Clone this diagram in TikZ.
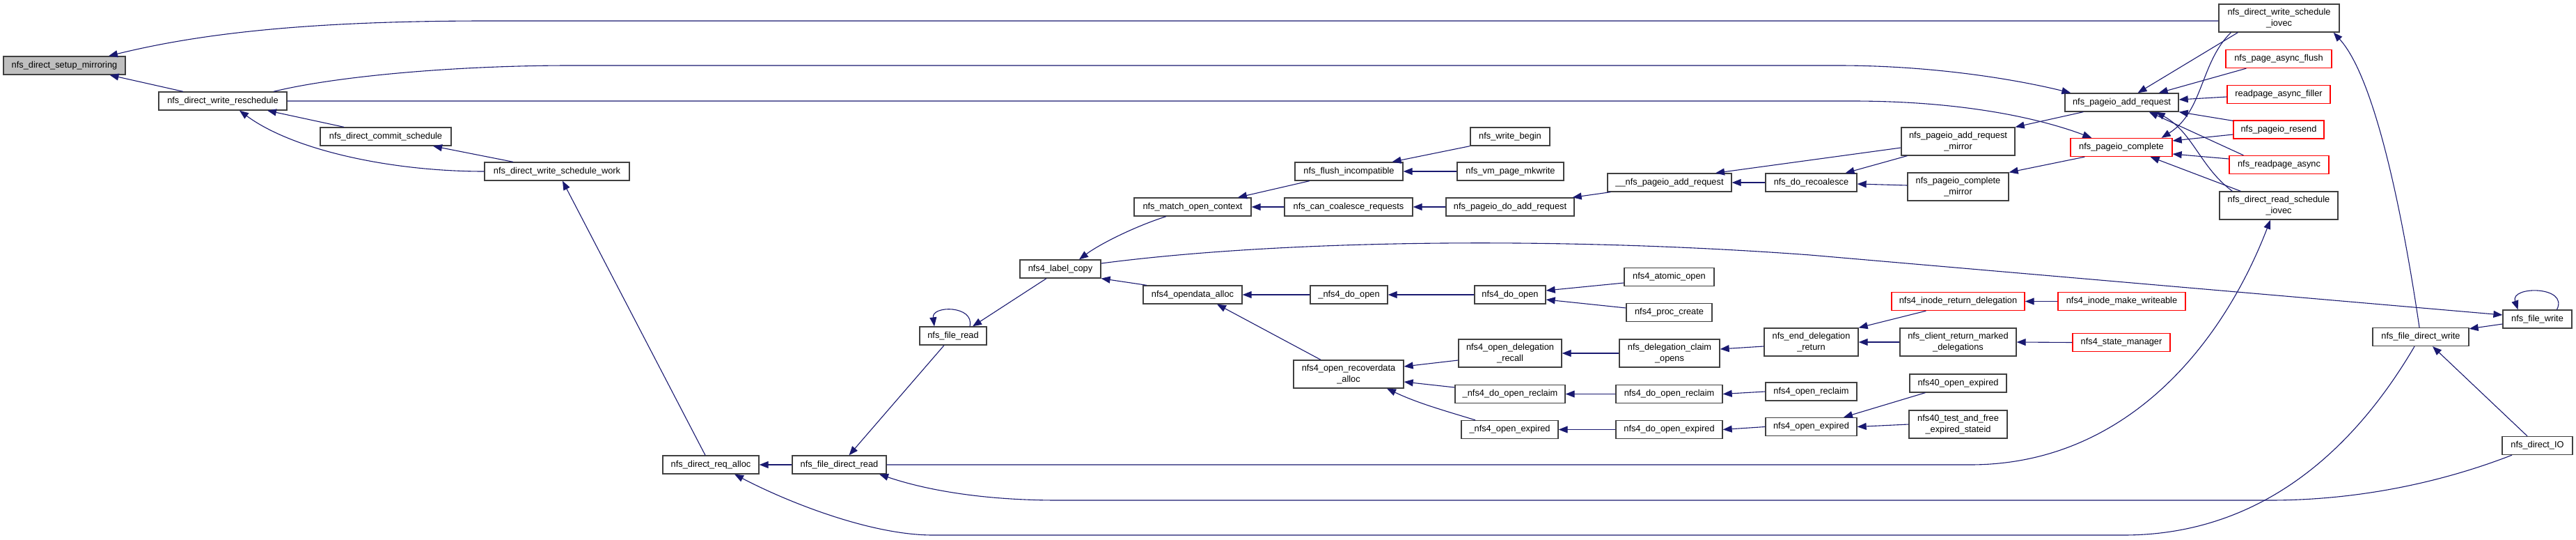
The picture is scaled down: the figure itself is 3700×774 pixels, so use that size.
\documentclass[tikz,border=0pt]{standalone}
\usepackage{fontspec}
\setmainfont{Liberation Sans}
\usetikzlibrary{arrows.meta}
\definecolor{mblue}{RGB}{25,25,112}
\definecolor{ngray}{RGB}{191,191,191}
\definecolor{nborder}{RGB}{64,64,64}
\begin{document}
\begin{tikzpicture}[x=1pt,y=-1pt,
  nd/.style={draw=nborder, fill=white, line width=1.3pt, inner sep=0pt, minimum height=26, align=center, font=\fontsize{12.8}{15.5}\selectfont},
  nd2/.style={nd, minimum height=40},
  ndr/.style={nd, draw=red},
  e/.style={draw=mblue, line width=1.1pt, -{Triangle[length=13pt,width=10pt]}}]
\useasboundingbox (0,0) rectangle (3700,774);
% nodes
\node[nd, minimum width=175, fill=ngray] (mir) at (92.5,94) {nfs\_direct\_setup\_mirroring};
\node[nd, minimum width=184] (resch) at (320,145) {nfs\_direct\_write\_reschedule};
\node[nd, minimum width=188] (commit) at (554,196) {nfs\_direct\_commit\_schedule};
\node[nd, minimum width=208] (work) at (800,246) {nfs\_direct\_write\_schedule\_work};
\node[nd, minimum width=138] (reqalloc) at (1021,667) {nfs\_direct\_req\_alloc};
\node[nd, minimum width=135] (fdread) at (1205.5,667) {nfs\_file\_direct\_read};
\node[nd, minimum width=96] (fread) at (1369,482) {nfs\_file\_read};
\node[nd, minimum width=116] (label) at (1523,386) {nfs4\_label\_copy};
\node[nd, minimum width=142] (odalloc) at (1713,423) {nfs4\_opendata\_alloc};
\node[nd, minimum width=168] (match) at (1713,297) {nfs\_match\_open\_context};
\node[nd, minimum width=155] (flush) at (1937.5,246) {nfs\_flush\_incompatible};
\node[nd, minimum width=184] (cancoal) at (1937,297) {nfs\_can\_coalesce\_requests};
\node[nd, minimum width=114] (wbegin) at (2169,196) {nfs\_write\_begin};
\node[nd, minimum width=153] (mkwrite) at (2169.5,246) {nfs\_vm\_page\_mkwrite};
\node[nd, minimum width=184] (doadd) at (2169,297) {nfs\_pageio\_do\_add\_request};
\node[nd, minimum width=178] (uadd) at (2398,262) {\_\_nfs\_pageio\_add\_request};
\node[nd, minimum width=131] (recoal) at (2601.5,262) {nfs\_do\_recoalesce};
\node[nd2, minimum width=163] (addmir) at (2812.5,203) {nfs\_pageio\_add\_request\\\_mirror};
\node[nd2, minimum width=145] (compmir) at (2812.5,268) {nfs\_pageio\_complete\\\_mirror};
\node[nd, minimum width=163] (padd) at (3047.5,147) {nfs\_pageio\_add\_request};
\node[ndr, minimum width=146] (pcomp) at (3047,211.5) {nfs\_pageio\_complete};
\node[nd2, minimum width=173] (wsiov) at (3273.5,26) {nfs\_direct\_write\_schedule\\\_iovec};
\node[ndr, minimum width=152] (aflush) at (3273,84.5) {nfs\_page\_async\_flush};
\node[ndr, minimum width=148] (filler) at (3273,135.5) {readpage\_async\_filler};
\node[ndr, minimum width=130] (resend) at (3273,186) {nfs\_pageio\_resend};
\node[ndr, minimum width=143] (rpasync) at (3273.5,236.5) {nfs\_readpage\_async};
\node[nd2, minimum width=170] (rsiov) at (3273,295) {nfs\_direct\_read\_schedule\\\_iovec};
\node[nd, minimum width=138] (fdwrite) at (3477,483.5) {nfs\_file\_direct\_write};
\node[nd, minimum width=99] (fwrite) at (3644.5,458) {nfs\_file\_write};
\node[nd, minimum width=101] (dio) at (3644.5,639.5) {nfs\_direct\_IO};
\node[nd, minimum width=111] (udoopen) at (1937.5,423) {\_nfs4\_do\_open};
\node[nd, minimum width=102] (doopen) at (2169,423) {nfs4\_do\_open};
\node[nd, minimum width=129] (atomic) at (2397.5,397.5) {nfs4\_atomic\_open};
\node[nd, minimum width=123] (pcreate) at (2397.5,448.5) {nfs4\_proc\_create};
\node[nd2, minimum width=158] (recov) at (1937,537) {nfs4\_open\_recoverdata\\\_alloc};
\node[nd2, minimum width=148] (drecall) at (2169,507) {nfs4\_open\_delegation\\\_recall};
\node[nd, minimum width=158] (udoreclaim) at (2169,565.5) {\_nfs4\_do\_open\_reclaim};
\node[nd, minimum width=139] (uexpired) at (2168.5,616.5) {\_nfs4\_open\_expired};
\node[nd2, minimum width=144] (claim) at (2398,507) {nfs\_delegation\_claim\\\_opens};
\node[nd, minimum width=153] (doreclaim) at (2397.5,565.5) {nfs4\_do\_open\_reclaim};
\node[nd, minimum width=153] (doexpired) at (2397.5,616.5) {nfs4\_do\_open\_expired};
\node[nd2, minimum width=135] (enddel) at (2601.5,491) {nfs\_end\_delegation\\\_return};
\node[ndr, minimum width=191] (ird) at (2812.5,432.5) {nfs4\_inode\_return\_delegation};
\node[nd2, minimum width=167] (crmd) at (2812.5,491) {nfs\_client\_return\_marked\\\_delegations};
\node[nd, minimum width=131] (oreclaim) at (2601.5,562) {nfs4\_open\_reclaim};
\node[nd, minimum width=131] (oexpired) at (2601.5,612.5) {nfs4\_open\_expired};
\node[nd, minimum width=139] (o40exp) at (2812.5,550) {nfs40\_open\_expired};
\node[nd2, minimum width=141] (o40test) at (2812.5,609) {nfs40\_test\_and\_free\\\_expired\_stateid};
\node[ndr, minimum width=183] (imw) at (3047.5,432.5) {nfs4\_inode\_make\_writeable};
\node[ndr, minimum width=140] (sman) at (3047,491.5) {nfs4\_state\_manager};
% edges
\draw[e] ([yshift=-4]wsiov.west) -- (700,30) .. controls (430,30) and (280,50) .. ([xshift=63.5]mir.north);
\draw[e] ([xshift=-57]resch.north) -- ([xshift=65]mir.south);
\draw[e] ([xshift=73]resch.north) .. controls (480,110) and (650,94) .. (820,94) -- (2640,94) .. controls (2780,94) and (2900,115) .. ([xshift=9]padd.north west);
\draw[e] (resch.east) -- (2660,145) .. controls (2820,145) and (2930,170) .. ([xshift=31]pcomp.north west);
\draw[e] ([xshift=-60]commit.north) -- ([xshift=64]resch.south);
\draw[e] (work.west) .. controls (560,246) and (420,215) .. ([xshift=24]resch.south);
\draw[e] ([xshift=-63]work.north) -- ([xshift=68]commit.south);
\draw[e] ([xshift=-8]reqalloc.north) -- ([xshift=8]work.south);
\draw[e] (fdread.west) -- (reqalloc.east);
\draw[e] ([xshift=-9]fdwrite.south) .. controls (3390,630) and (3260,768) .. (3050,768) -- (1340,768) .. controls (1250,768) and (1130,720) .. ([xshift=34]reqalloc.south);
\draw[e] ([xshift=-36.5]dio.south) .. controls (3500,695) and (3380,718) .. (3260,718) -- (1520,718) .. controls (1400,718) and (1320,700) .. ([xshift=57.5]fdread.south);
\draw[e] ([xshift=-13]fread.south) -- ([xshift=14]fdread.north);
\draw[e] ([xshift=24]fread.north) .. controls (1400,438) and (1338,438) .. ([xshift=-27]fread.north);
\draw[e] ([xshift=-20]label.south) -- ([xshift=28]fread.north);
\draw[e] ([xshift=-38]match.south) .. controls (1630,325) and (1580,350) .. ([xshift=27]label.north);
\draw[e] ([xshift=-66]odalloc.north) -- (label.south east);
\draw[e] ([xshift=-56.5]flush.south) -- ([xshift=65]match.north);
\draw[e] (cancoal.west) -- (match.east);
\draw[e] (wbegin.south west) -- ([xshift=62]flush.north);
\draw[e] (mkwrite.west) -- (flush.east);
\draw[e] (doadd.west) -- (cancoal.east);
\draw[e] ([xshift=5]uadd.south west) -- ([xshift=-3]doadd.north east);
\draw[e] ([yshift=-9]addmir.west) -- ([xshift=66]uadd.north);
\draw[e] (recoal.west) -- (uadd.east);
\draw[e] ([xshift=9]addmir.south west) -- ([xshift=49]recoal.north);
\draw[e] ([yshift=2]compmir.west) -- ([yshift=-2]recoal.east);
\draw[e] ([xshift=27]padd.south west) -- (addmir.north east);
\draw[e] ([xshift=21]pcomp.south west) -- (compmir.north east);
\draw[e] ([xshift=28]wsiov.south west) -- ([xshift=23]padd.north);
\draw[e] ([xshift=18]wsiov.south west) .. controls (3160,90) and (3165,160) .. ([xshift=-16]pcomp.north east);
\draw[e] ([xshift=30]aflush.south west) -- ([xshift=-29]padd.north east);
\draw[e] ([yshift=-3.5]filler.west) -- ([yshift=4]padd.east);
\draw[e] ([yshift=-1]resend.north west) -- (padd.south east);
\draw[e] ([xshift=21]rpasync.north west) -- ([xshift=-43]padd.south east);
\draw[e] ([xshift=19]rsiov.north west) .. controls (3160,240) and (3150,190) .. ([xshift=-33]padd.south east);
\draw[e] ([xshift=31]rsiov.north west) -- ([xshift=-32]pcomp.south east);
\draw[e] ([yshift=-7]resend.west) -- ([yshift=9.5]pcomp.east);
\draw[e] ([yshift=8.5]rpasync.west) -- ([yshift=-9.5]pcomp.east);
\draw[e] (fdread.east) -- (2830,667) .. controls (3050,667) and (3190,500) .. ([xshift=-12]rsiov.south);
\draw[e] ([xshift=-2]fdwrite.north) .. controls (3450,300) and (3410,110) .. ([xshift=-9]wsiov.south east);
\draw[e] ([yshift=-7]fwrite.west) -- ([yshift=-2]fdwrite.north east);
\draw[e] ([xshift=-14.5]dio.north) -- ([xshift=17]fdwrite.south);
\draw[e] ([xshift=28]fwrite.north) .. controls (3690,410) and (3605,410) .. ([xshift=-28]fwrite.north);
\draw[e] ([yshift=8]label.east) .. controls (1850,343) and (2250,340) .. (2600,366) -- ([yshift=6]fwrite.west);
\draw[e] (udoopen.west) -- (odalloc.east);
\draw[e] ([xshift=-40]recov.north) -- ([xshift=35]odalloc.south);
\draw[e] (doopen.west) -- (udoopen.east);
\draw[e] ([yshift=-8.5]atomic.west) -- ([yshift=6]doopen.east);
\draw[e] ([yshift=6.5]pcreate.west) -- ([yshift=-7]doopen.east);
\draw[e] ([yshift=-10]drecall.west) -- ([yshift=11]recov.east);
\draw[e] ([yshift=9.5]udoreclaim.west) -- ([yshift=-11]recov.east);
\draw[e] ([xshift=-49.5]uexpired.north) .. controls (2070,588) and (2035,578) .. ([xshift=55]recov.south);
\draw[e] (claim.west) -- (drecall.east);
\draw[e] (doreclaim.west) -- (udoreclaim.east);
\draw[e] (doexpired.west) -- (uexpired.east);
\draw[e] ([yshift=-6]enddel.west) -- ([yshift=6]claim.east);
\draw[e] (oreclaim.west) -- (doreclaim.east);
\draw[e] (oexpired.west) -- (doexpired.east);
\draw[e] ([xshift=50]ird.south west) -- (enddel.north east);
\draw[e] (crmd.west) -- (enddel.east);
\draw[e] (imw.west) -- (ird.east);
\draw[e] (sman.west) -- (crmd.east);
\draw[e] ([xshift=23]o40exp.south west) -- ([xshift=46.5]oexpired.north);
\draw[e] (o40test.west) -- (oexpired.east);
\end{tikzpicture}
\end{document}
